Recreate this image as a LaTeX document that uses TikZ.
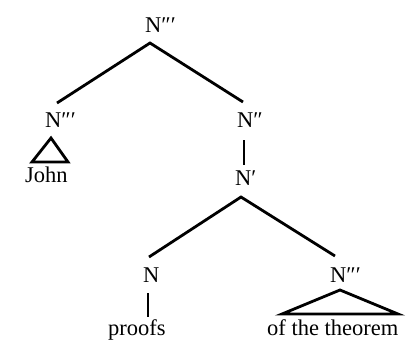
\documentclass[tikz,border=0pt]{standalone}
\usepackage{fontspec}
\setmainfont{Liberation Serif}
\begin{document}
\begin{tikzpicture}[x=1pt,y=-1pt,
  lab/.style={anchor=base west,inner sep=0pt,font=\fontsize{22.5}{24}\selectfont},
  br/.style={line width=2.8pt,line cap=butt,line join=miter}]
\useasboundingbox (0,0) rectangle (412,341);
% labels
\node[lab] (root) at (145,32) {N″′};
\node[lab] (lnp) at (45,127) {N″′};
\node[lab] (nbar2) at (237,127) {N″};
\node[lab] (nbar1) at (235,185) {N′};
\node[lab] (n) at (143,282) {N};
\node[lab] (rnp) at (330,282) {N″′};
\node[lab] (john) at (25,182) {John};
\node[lab] (proofs) at (108,335) {proofs};
\node[lab] (thm) at (267,335) {of the theorem};
% connection points
\coordinate (a0) at (150,43);
\coordinate (a1) at (57,103);
\coordinate (a2) at (243,102);
\coordinate (b0) at (244,140);
\coordinate (b1) at (244,165);
\coordinate (c0) at (241,197);
\coordinate (c1) at (149,257);
\coordinate (c2) at (335,256);
\coordinate (d0) at (148,293);
\coordinate (d1) at (148,317);
\coordinate (t0) at (51,138);
\coordinate (t1) at (32,162);
\coordinate (t2) at (68,162);
\coordinate (u0) at (340,290);
\coordinate (u1) at (282,314);
\coordinate (u2) at (398,314);
% branches
\draw[br] (a1) -- (a0) -- (a2);
\draw[br] (b0) -- (b1);
\draw[br] (c1) -- (c0) -- (c2);
\draw[br] (d0) -- (d1);
\draw[br] (t0) -- (t1) -- (t2) -- cycle;
\draw[br] (u0) -- (u1) -- (u2) -- cycle;
\end{tikzpicture}
\end{document}
